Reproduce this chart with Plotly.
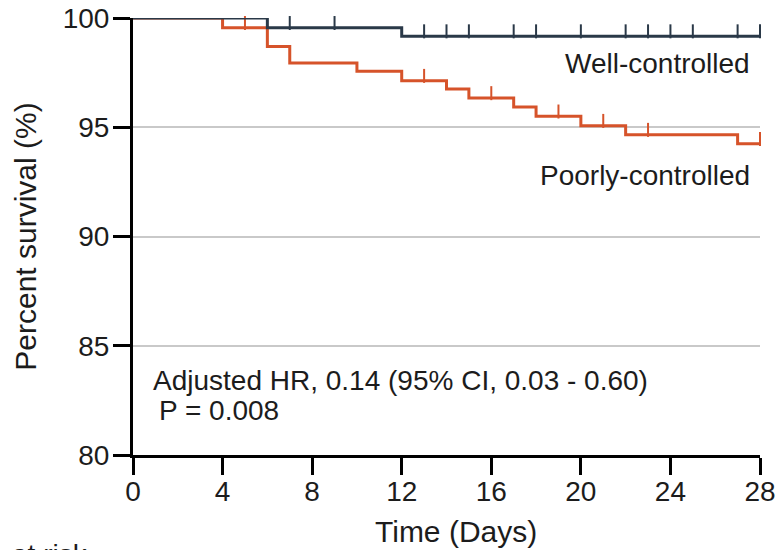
import plotly.graph_objects as go

# ---- data ----
well_time = [0, 6, 12, 28]
well_surv = [100, 99.55, 99.17, 99.17]
poor_time = [0, 4, 6, 7, 10, 12, 14, 15, 17, 18, 20, 22, 27, 28]
poor_surv = [100, 99.55, 98.70, 97.94, 97.56, 97.13, 96.75, 96.34, 95.93, 95.50, 95.07, 94.66, 94.24, 94.24]
well_censor_t = [4, 7, 9, 13, 14, 15, 17, 18, 20, 22, 23, 24, 25, 27, 28]
poor_censor_t = [5, 13, 16, 19, 21, 23, 28]
x_ticks = [0, 4, 8, 12, 16, 20, 24, 28]
y_ticks = [80, 85, 90, 95, 100]

NAVY = "#2a3948"
ORANGE = "#d6532a"
FONT = "Liberation Sans, Arial, sans-serif"
TXT = "#1c1c1c"


def surv_at(t, times, surv):
    val = surv[0]
    for tt, s in zip(times, surv):
        if tt <= t:
            val = s
    return val


TICK_OFF = 0.22  # lift censor ticks so they sit on top of the curve

fig = go.Figure()
fig.add_trace(go.Scatter(x=poor_time, y=poor_surv, mode="lines", line=dict(shape="hv", color=ORANGE, width=3),
                         name="Poorly-controlled", cliponaxis=False))
fig.add_trace(go.Scatter(x=poor_censor_t, y=[surv_at(t, poor_time, poor_surv) + TICK_OFF for t in poor_censor_t],
                         mode="markers", marker=dict(symbol="line-ns", size=10, line=dict(color=ORANGE, width=2)),
                         cliponaxis=False))
fig.add_trace(go.Scatter(x=well_time, y=well_surv, mode="lines", line=dict(shape="hv", color=NAVY, width=3),
                         name="Well-controlled", cliponaxis=False))
fig.add_trace(go.Scatter(x=well_censor_t, y=[surv_at(t, well_time, well_surv) + TICK_OFF for t in well_censor_t],
                         mode="markers", marker=dict(symbol="line-ns", size=10, line=dict(color=NAVY, width=2)),
                         cliponaxis=False))

fig.update_layout(
    width=777, height=550,
    margin=dict(l=133, r=17, t=18, b=95),
    paper_bgcolor="white", plot_bgcolor="white",
    showlegend=False,
    font=dict(family=FONT, size=28, color=TXT),
)
fig.update_xaxes(
    range=[0, 28], tickvals=x_ticks, ticks="outside", ticklen=17, tickwidth=3, tickcolor="black",
    showline=True, linewidth=3, linecolor="black", showgrid=False, zeroline=False, automargin=False,
    tickfont=dict(size=28, family=FONT, color=TXT), ticklabelstandoff=-8,
)
fig.update_yaxes(
    range=[80, 100], tickvals=y_ticks, ticks="outside", ticklen=17, tickwidth=3, tickcolor="black",
    showline=True, linewidth=3, linecolor="black", showgrid=True, gridcolor="#c9c9c9", gridwidth=2,
    zeroline=False, automargin=False, tickfont=dict(size=28, family=FONT, color=TXT), ticklabelstandoff=-2,
    title=dict(text="Percent survival (%)", font=dict(size=30, family=FONT, color=TXT), standoff=18),
)

ann = dict(showarrow=False, font=dict(size=28, family=FONT, color=TXT))
fig.add_annotation(x=0.515, y=-0.176, xref="paper", yref="paper", text="Time (Days)",
                   xanchor="center", yanchor="middle", showarrow=False,
                   font=dict(size=30, family=FONT, color=TXT))
fig.add_annotation(x=27.65, y=97.9, text="Well-controlled", xanchor="right", yanchor="middle", **ann)
fig.add_annotation(x=27.65, y=92.8, text="Poorly-controlled", xanchor="right", yanchor="middle", **ann)
fig.add_annotation(x=0.8, y=83.4, text="Adjusted HR, 0.14 (95% CI, 0.03 - 0.60)", xanchor="left", yanchor="middle", **ann)
fig.add_annotation(x=1.05, y=82.05, text="P = 0.008", xanchor="left", yanchor="middle", **ann)
fig.add_annotation(x=-0.196, y=-0.188, xref="paper", yref="paper", text="at risk", xanchor="left", yanchor="top", **ann)

fig.write_html("out.html")
